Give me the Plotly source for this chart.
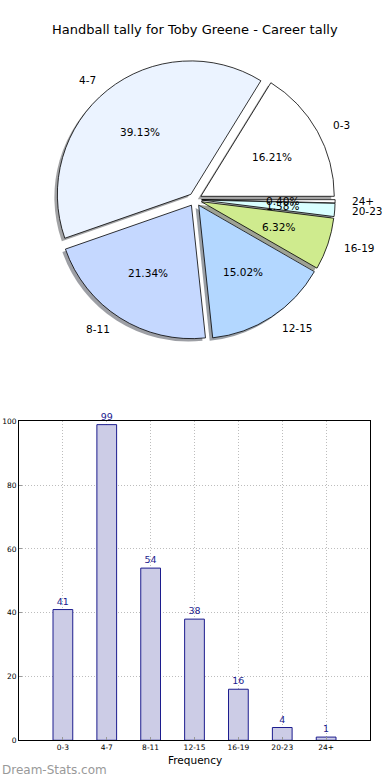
import math
import plotly.graph_objects as go

# ---- data ----
categories = ["0-3", "4-7", "8-11", "12-15", "16-19", "20-23", "24+"]
frequency = [41, 99, 54, 38, 16, 4, 1]
pie_colors = ["#FFFFFF", "#EBF3FF", "#C5D8FF", "#B3D7FF", "#CFEB8E", "#D9FFFF", "#FFFFFF"]
y_ticks = [0, 20, 40, 60, 80, 100]
title_text = "Handball tally for Toby Greene - Career tally"

# ---- layout helpers ----
W, H = 390, 780
R = 135.0          # pie radius in px
PULL = 0.05
CX, CY = 195.0, 199.0
SH = 3.0           # shadow offset px
FONT = "DejaVu Sans"
NAVY = "#1c1c8e"
VS = 1.0 / 0.989   # small vertical layout correction
VY0 = 303.0


def px(x):
    return x / W


def vy(y):
    return VY0 + (y - VY0) * VS


def py(y):
    return 1 - vy(y) / H


total = sum(frequency)
D = R * (1 + PULL)

rev_labels = categories[::-1]
rev_vals = frequency[::-1]
rev_cols = pie_colors[::-1]


def shadow_col(c):
    r, g, b = int(c[1:3], 16), int(c[3:5], 16), int(c[5:7], 16)
    return "rgba(%d,%d,%d,0.5)" % (r * 0.3, g * 0.3, b * 0.3)


def pie_dom(dx, dy):
    cy = vy(CY) + dy
    return dict(x=[px(CX - D + dx), px(CX + D + dx)],
                y=[1 - (cy + D) / H, 1 - (cy - D) / H])


fig = go.Figure()

# shadow pie
fig.add_trace(go.Pie(
    labels=rev_labels, values=rev_vals, sort=False, direction="clockwise", rotation=90,
    pull=PULL, textinfo="none", hoverinfo="skip", showlegend=False,
    marker=dict(colors=[shadow_col(c) for c in rev_cols], line=dict(width=0)),
    domain=pie_dom(-SH, SH),
))
# main pie
fig.add_trace(go.Pie(
    labels=rev_labels, values=rev_vals, sort=False, direction="clockwise", rotation=90,
    pull=PULL, textinfo="none", showlegend=False,
    marker=dict(colors=rev_cols, line=dict(color="black", width=0.8)),
    domain=pie_dom(0, 0),
))

annotations = []
theta0 = 0.0
pcy = vy(CY)
for lab, v in zip(categories, frequency):
    theta1 = theta0 + 360.0 * v / total
    mid = math.radians((theta0 + theta1) / 2)
    ecx = CX + PULL * R * math.cos(mid)
    ecy = pcy - PULL * R * math.sin(mid)
    lx = ecx + 1.1 * R * math.cos(mid)
    ly = ecy - 1.1 * R * math.sin(mid)
    annotations.append(dict(
        x=px(lx), y=1 - ly / H, xref="paper", yref="paper", text=lab, showarrow=False,
        xanchor="left" if math.cos(mid) > 0 else "right", yanchor="middle",
        font=dict(family=FONT, size=10.5, color="black")))
    tx = ecx + 0.6 * R * math.cos(mid)
    ty = ecy - 0.6 * R * math.sin(mid)
    annotations.append(dict(
        x=px(tx), y=1 - ty / H, xref="paper", yref="paper", text="%.2f%%" % (100.0 * v / total),
        showarrow=False, xanchor="center", yanchor="middle",
        font=dict(family=FONT, size=10.5, color="black")))
    theta0 = theta1

# bar chart
fig.add_trace(go.Bar(
    x=categories, y=frequency, width=0.45, xaxis="x", yaxis="y", showlegend=False,
    marker=dict(color="#CCCCE6", line=dict(color=NAVY, width=1)),
    text=[str(v) for v in frequency], textposition="outside", cliponaxis=False,
    constraintext="none", textfont=dict(family=FONT, size=9.5, color=NAVY),
))

annotations.append(dict(x=px(194.5), y=py(760), xref="paper", yref="paper", text="Frequency",
                        showarrow=False, xanchor="center", yanchor="middle",
                        font=dict(family=FONT, size=10.5, color="black")))
annotations.append(dict(x=0, y=py(770), xref="paper", yref="paper", text="Dream-Stats.com",
                        showarrow=False, xanchor="left", yanchor="middle",
                        font=dict(family=FONT, size=12, color="#999999")))
annotations.append(dict(x=0.5, y=py(29), xref="paper", yref="paper", text=title_text,
                        showarrow=False, xanchor="center", yanchor="middle",
                        font=dict(family=FONT, size=13, color="black")))

axis_common = dict(showline=True, linecolor="black", linewidth=1, mirror=True,
                   showgrid=True, gridcolor="#bdbdbd", griddash="1px,2px", gridwidth=1,
                   ticks="inside", ticklen=3, tickcolor="#999999", zeroline=False,
                   layer="above traces", tickfont=dict(family=FONT, size=7.5, color="black"))

fig.update_layout(
    width=W, height=H, margin=dict(l=0, r=0, t=0, b=0),
    paper_bgcolor="white", plot_bgcolor="white",
    font=dict(family=FONT),
    annotations=annotations,
    xaxis=dict(domain=[px(19), px(370)], anchor="y", type="category", range=[-1, 7],
               **axis_common),
    yaxis=dict(domain=[py(740), py(421)], anchor="x", range=[0, 100], tickvals=y_ticks,
               **axis_common),
)

page_css = (
    "document.documentElement.style.cssText='margin:0;padding:0;overflow:hidden;height:780px';"
    "document.body.style.cssText='margin:0;padding:0;overflow:hidden;height:780px';"
)

fig.write_html("out.html", config={"displayModeBar": False}, post_script=page_css)
